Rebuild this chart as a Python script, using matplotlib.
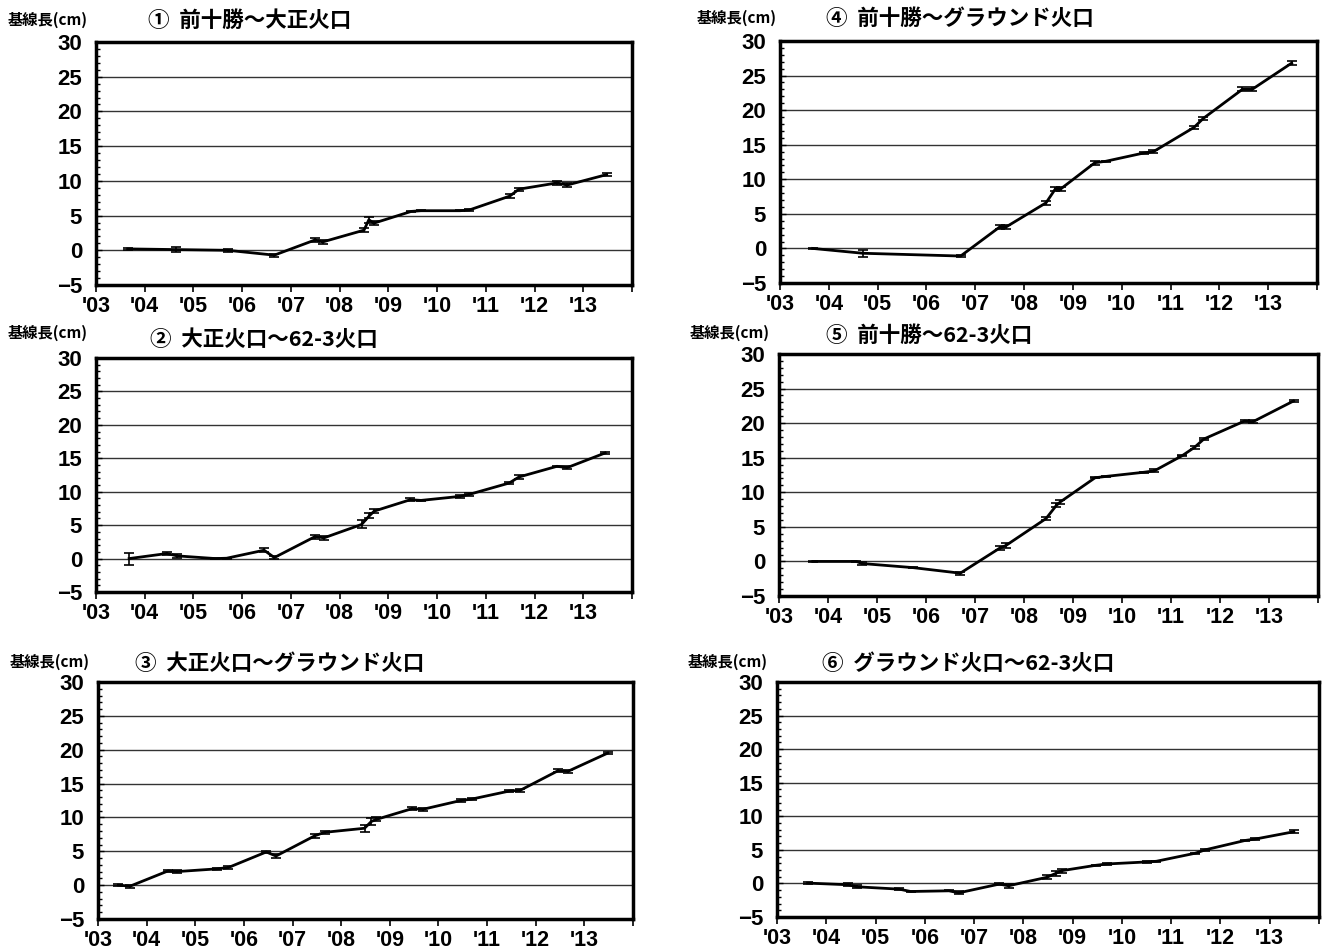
import matplotlib
matplotlib.use("Agg")
import matplotlib.pyplot as plt
from matplotlib.ticker import MultipleLocator

plt.rcParams['font.family'] = ['Liberation Sans', 'Noto Sans CJK JP', 'DejaVu Sans']

W, H = 1323, 951

titles = ['①  前十勝～大正火口', '②  大正火口～62-3火口', '③  大正火口～グラウンド火口',
          '④  前十勝～グラウンド火口', '⑤  前十勝～62-3火口', '⑥  グラウンド火口～62-3火口']
ylabel = '基線長(cm)'
year_labels = ["'03", "'04", "'05", "'06", "'07", "'08", "'09", "'10", "'11", "'12", "'13"]

# ① 前十勝～大正火口
t_1 = [2003.65, 2004.65, 2005.70, 2006.66, 2007.50, 2007.65, 2008.50, 2008.60, 2008.70,
       2009.47, 2009.67, 2010.47, 2010.66, 2011.49, 2011.68, 2012.46, 2012.67, 2013.48]
v_1 = [0.2, 0.1, 0.0, -0.7, 1.5, 1.2, 2.9, 4.4, 3.9,
       5.6, 5.7, 5.7, 5.8, 7.8, 8.8, 9.7, 9.4, 10.9]
e_1 = [0.1, 0.4, 0.2, 0.2, 0.3, 0.3, 0.3, 0.4, 0.3,
       0.1, 0.1, 0.1, 0.2, 0.3, 0.2, 0.3, 0.3, 0.2]

# ② 大正火口～62-3火口
t_2 = [2003.68, 2004.45, 2004.67, 2005.45, 2005.68, 2006.45, 2006.66, 2007.50, 2007.68,
       2008.45, 2008.61, 2008.71, 2009.45, 2009.67, 2010.47, 2010.66, 2011.48, 2011.68,
       2012.46, 2012.67, 2013.45]
v_2 = [0.0, 0.75, 0.4, 0.0, 0.05, 1.25, 0.15, 3.3, 3.1,
       5.1, 6.4, 7.1, 8.8, 8.7, 9.3, 9.6, 11.3, 12.2,
       13.8, 13.6, 15.8]
e_2 = [0.9, 0.2, 0.3, 0.1, 0.1, 0.3, 0.2, 0.3, 0.3,
       0.6, 0.4, 0.3, 0.2, 0.1, 0.2, 0.2, 0.2, 0.3,
       0.1, 0.2, 0.2]

# ③ 大正火口～グラウンド火口
t_3 = [2003.42, 2003.66, 2004.44, 2004.62, 2005.44, 2005.68, 2006.46, 2006.66, 2007.46,
       2007.66, 2008.48, 2008.62, 2008.72, 2009.46, 2009.68, 2010.46, 2010.68, 2011.46,
       2011.68, 2012.46, 2012.66, 2013.48]
v_3 = [0.0, -0.15, 2.1, 2.0, 2.4, 2.6, 4.9, 4.3, 7.3,
       7.8, 8.4, 9.4, 9.7, 11.3, 11.2, 12.5, 12.7, 13.9,
       14.0, 16.9, 16.8, 19.5]
e_3 = [0.1, 0.2, 0.2, 0.2, 0.2, 0.2, 0.2, 0.3, 0.3,
       0.2, 0.5, 0.5, 0.3, 0.2, 0.2, 0.2, 0.1, 0.2,
       0.2, 0.2, 0.2, 0.2]

# ④ 前十勝～グラウンド火口
t_4 = [2003.67, 2004.70, 2006.70, 2007.50, 2007.63, 2008.45, 2008.64, 2008.75,
       2009.45, 2009.67, 2010.45, 2010.65, 2011.48, 2011.67, 2012.47, 2012.67, 2013.48]
v_4 = [0.0, -0.7, -1.1, 3.1, 3.1, 6.6, 8.6, 8.6,
       12.4, 12.6, 13.8, 14.0, 17.5, 18.8, 23.0, 23.0, 26.8]
e_4 = [0.1, 0.5, 0.1, 0.3, 0.3, 0.3, 0.3, 0.3,
       0.3, 0.1, 0.2, 0.2, 0.2, 0.2, 0.3, 0.3, 0.3]

# ⑤ 前十勝～62-3火口
t_5 = [2003.69, 2004.58, 2004.69, 2005.74, 2006.70, 2007.50, 2007.63, 2008.45, 2008.66,
       2008.74, 2009.45, 2009.68, 2010.45, 2010.66, 2011.23, 2011.48, 2011.67,
       2012.50, 2012.67, 2013.50]
v_5 = [0.0, 0.0, -0.3, -0.9, -1.7, 1.9, 2.3, 6.2, 8.1,
       8.6, 12.1, 12.3, 12.9, 13.1, 15.3, 16.5, 17.7,
       20.3, 20.2, 23.2]
e_5 = [0.1, 0.1, 0.2, 0.1, 0.2, 0.3, 0.3, 0.2, 0.3,
       0.3, 0.1, 0.1, 0.1, 0.2, 0.1, 0.2, 0.2,
       0.2, 0.2, 0.1]

# ⑥ グラウンド火口～62-3火口
t_6 = [2003.62, 2004.45, 2004.62, 2005.48, 2005.71, 2006.49, 2006.69, 2007.51, 2007.70,
       2008.47, 2008.66, 2008.78, 2009.47, 2009.70, 2010.50, 2010.70, 2011.49, 2011.69,
       2012.50, 2012.70, 2013.49]
v_6 = [0.05, -0.2, -0.5, -0.85, -1.2, -1.1, -1.4, -0.1, -0.35,
       0.9, 1.5, 1.9, 2.7, 2.9, 3.2, 3.3, 4.5, 5.0,
       6.4, 6.6, 7.7]
e_6 = [0.1, 0.2, 0.2, 0.1, 0.1, 0.1, 0.2, 0.2, 0.3,
       0.3, 0.4, 0.3, 0.1, 0.1, 0.1, 0.1, 0.1, 0.1,
       0.1, 0.1, 0.2]

series = [(t_1, v_1, e_1), (t_2, v_2, e_2), (t_3, v_3, e_3),
          (t_4, v_4, e_4), (t_5, v_5, e_5), (t_6, v_6, e_6)]

# axes boxes in pixels: left, top, right, bottom
boxes = [(96, 42, 632, 285), (96, 358, 632, 592), (98, 682, 633, 919),
         (780, 41, 1317, 283), (779, 354, 1318, 596), (777, 682, 1319, 917)]
# label positions in pixels: (ylabel x, y), (title x, y)
label_pos = [((8, 20), (148, 20)), ((8, 333), (150, 340)), ((10, 662), (135, 663)),
             ((697, 18), (826, 18)), ((690, 333), (826, 335)), ((688, 662), (822, 663))]

fig = plt.figure(figsize=(W / 100, H / 100), dpi=100)

for box, (t, v, e), title, (lp, tp) in zip(boxes, series, titles, label_pos):
    l, top, r, b = box
    ax = fig.add_axes([l / W, 1 - b / H, (r - l) / W, (b - top) / H])
    ax.errorbar(t, v, yerr=e, color='black', lw=2, elinewidth=1.2, capsize=3.5,
                capthick=1.2, zorder=3)
    ax.set_xlim(2003, 2014)
    ax.set_ylim(-5, 30)
    for g in [0, 5, 10, 15, 20, 25]:
        ax.axhline(g, color='#333333', lw=1, zorder=1)
    ax.set_yticks([-5, 0, 5, 10, 15, 20, 25, 30])
    ax.set_yticklabels(['\u22125', '0', '5', '10', '15', '20', '25', '30'])
    ax.yaxis.set_minor_locator(MultipleLocator(1))
    ax.set_xticks(range(2003, 2015))
    ax.set_xticklabels(year_labels + [''])
    ax.tick_params(axis='y', which='both', direction='in', length=4, width=1,
                   labelsize=16, pad=10)
    ax.tick_params(axis='y', which='minor', length=3)
    ax.tick_params(axis='x', direction='out', length=5, width=1.2, labelsize=15.5, pad=3)
    for lab in ax.get_xticklabels() + ax.get_yticklabels():
        lab.set_fontweight('bold')
    for s in ax.spines.values():
        s.set_linewidth(2.5)
    fig.text(lp[0] / W, 1 - lp[1] / H, ylabel, fontsize=11, fontweight='bold',
             family=['Noto Sans CJK JP'], va='center', ha='left')
    fig.text(tp[0] / W, 1 - tp[1] / H, title, fontsize=15.5, fontweight='bold',
             family=['Noto Sans CJK JP'], va='center', ha='left')

fig.savefig('out.png', dpi=100)
